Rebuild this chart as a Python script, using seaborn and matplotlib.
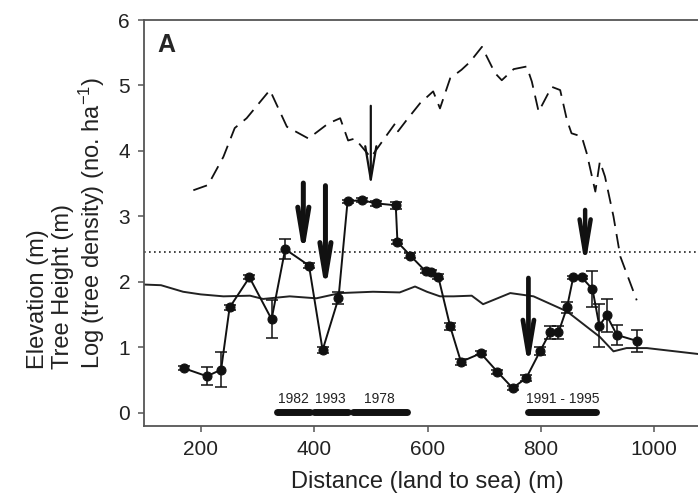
import matplotlib
matplotlib.use("Agg")
import matplotlib.pyplot as plt
import seaborn as sns
import numpy as np

# ---- data ----
th_x = [171, 211, 236, 251, 286, 325, 349, 391, 415, 443, 459, 484, 509, 544, 547, 570,
        597, 607, 619, 640, 659, 694, 723, 750, 774, 799, 816, 831, 846, 857, 872, 891,
        903, 916, 934, 969]
th_y = [0.68, 0.56, 0.66, 1.61, 2.07, 1.43, 2.50, 2.25, 0.96, 1.75, 3.23, 3.25, 3.20, 3.17,
        2.61, 2.40, 2.16, 2.15, 2.08, 1.32, 0.78, 0.91, 0.63, 0.38, 0.53, 0.95, 1.23, 1.23,
        1.61, 2.07, 2.07, 1.89, 1.33, 1.49, 1.19, 1.10]
th_err = [0.03, 0.14, 0.27, 0.04, 0.03, 0.29, 0.15, 0.04, 0.05, 0.09, 0.02, 0.03, 0.04, 0.05,
          0.03, 0.04, 0.03, 0.03, 0.04, 0.06, 0.05, 0.03, 0.03, 0.03, 0.05, 0.06, 0.10, 0.10,
          0.08, 0.02, 0.02, 0.28, 0.33, 0.25, 0.16, 0.17]

el_x = [100, 130, 169, 200, 240, 287, 310, 357, 404, 446, 504, 551, 563, 578, 599, 622, 646,
        678, 698, 746, 787, 846, 904, 928, 951, 987, 1077, 1100]
el_y = [1.96, 1.95, 1.85, 1.81, 1.78, 1.79, 1.74, 1.78, 1.75, 1.83, 1.85, 1.84, 1.88, 1.93,
        1.85, 1.78, 1.78, 1.79, 1.66, 1.83, 1.78, 1.55, 1.16, 0.94, 0.99, 0.99, 0.90, 0.89]

de_x = [187, 213, 240, 260, 281, 322, 352, 390, 425, 446, 460, 472, 500, 528, 543, 548, 563,
        587, 596, 610, 622, 640, 660, 675, 696, 719, 731, 752, 775, 784, 796, 819, 834, 846,
        854, 872, 881, 896, 904, 913, 928, 940, 969]
de_y = [3.40, 3.48, 3.91, 4.35, 4.50, 4.93, 4.37, 4.19, 4.42, 4.50, 4.16, 4.19, 3.90, 4.24,
        4.42, 4.30, 4.47, 4.73, 4.80, 4.91, 4.65, 5.11, 5.24, 5.36, 5.59, 5.19, 5.08, 5.25,
        5.29, 5.06, 4.60, 4.98, 4.93, 4.47, 4.27, 4.22, 3.96, 3.38, 3.84, 3.61, 3.00, 2.39,
        1.72]

ref_level = 2.45

arrow_x = [381, 420, 500, 878, 778]
arrow_top = [3.51, 3.47, 4.69, 3.10, 2.06]
arrow_tip = [2.40, 1.86, 3.46, 2.24, 0.69]
arrow_lw = [3.6, 3.6, 1.6, 3.2, 3.4]

period_labels = ["1982", "1993", "1978", "1991 - 1995"]
period_start = [334, 399, 469, 778]
period_end = [393, 459, 563, 898]

xticks = [200, 400, 600, 800, 1000]
yticks = [0, 1, 2, 3, 4, 5, 6]

# ---- style ----
sns.set_style("ticks")
plt.rcParams["font.family"] = ["Liberation Sans", "DejaVu Sans"]
plt.rcParams["mathtext.fontset"] = "custom"
plt.rcParams["mathtext.rm"] = "Liberation Sans"
plt.rcParams["mathtext.it"] = "Liberation Sans"
plt.rcParams["mathtext.default"] = "regular"
spine_col = "#555555"
text_col = "#222222"

fig = plt.figure(figsize=(6.98, 5.04), dpi=100)
ax = fig.add_axes([144 / 698, 78 / 504, 567 / 698, 406 / 504])

# elevation
sns.lineplot(x=el_x, y=el_y, ax=ax, sort=False, estimator=None, color="#222222", lw=1.4)
# tree density (dashed)
sns.lineplot(x=de_x, y=de_y, ax=ax, sort=False, estimator=None, color="#111111", lw=1.3,
             linestyle=(0, (8, 4.5)))
# reference dotted line
ax.axhline(ref_level, color="#222222", lw=1.2, linestyle=(0, (1, 2.0)))
# tree height with error bars
ax.errorbar(th_x, th_y, yerr=th_err, fmt="none", ecolor="#111111", elinewidth=1.1,
            capsize=4.5, capthick=1.1)
sns.lineplot(x=th_x, y=th_y, ax=ax, sort=False, estimator=None, color="#111111", lw=1.4,
             marker="o", markersize=6.5, markeredgecolor="#111111", markerfacecolor="#111111")

# arrows
for xa, yt, yb, lw in zip(arrow_x, arrow_top, arrow_tip, arrow_lw):
    ax.annotate("", xy=(xa, yb), xytext=(xa, yt),
                arrowprops=dict(arrowstyle="->,head_length=2.4,head_width=0.4",
                                lw=lw, color="#111111", shrinkA=0, shrinkB=0))

# period bars
for lab, s, e in zip(period_labels, period_start, period_end):
    ax.plot([s, e], [0.02, 0.02], color="#111111", lw=5, solid_capstyle="round")
    ax.text((s + e) / 2, 0.1, lab, ha="center", va="bottom", fontsize=10, color=text_col)

ax.text(124, 5.62, "A", fontsize=18, fontweight="bold", ha="left", va="center")

ax.set_xlim(100, 1100)
ax.set_ylim(-0.2, 6.0)
ax.set_xticks(xticks)
ax.set_yticks(yticks)
ax.tick_params(axis="both", direction="out", length=4, width=1.1, color=spine_col,
               labelsize=15, labelcolor=text_col, pad=6)
for sp in ax.spines.values():
    sp.set_color(spine_col)
    sp.set_linewidth(1.3)
    sp.set_visible(True)

ax.set_xlabel("Distance (land to sea) (m)", fontsize=17, color=text_col, labelpad=9)
ax.set_ylabel("Elevation (m)\nTree Height (m)\nLog (tree density) (no. ha$^{-1}$)",
              fontsize=17, color=text_col, multialignment="left", labelpad=8,
              linespacing=1.15)

fig.savefig("out.png", dpi=100)
